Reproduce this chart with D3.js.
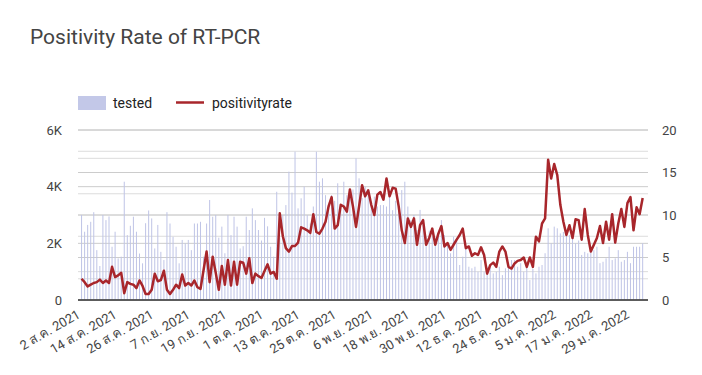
<!DOCTYPE html>
<html><head><meta charset="utf-8">
<script src="https://cdn.jsdelivr.net/npm/d3@7"></script>
<style>
body{margin:0;background:#fff;}
text{font-family:Roboto,'Noto Sans','DejaVu Sans',sans-serif;}
</style>
</head><body>
<svg id="chart" width="702" height="375"></svg>
<script>
const titleText = "Positivity Rate of RT-PCR";
const startDate = "2021-08-02";
const seriesNames = ["tested", "positivityrate"];
const tested = [
3000,2410,2650,2760,3100,1760,1200,3000,2820,2950,
1880,2410,1470,1530,4175,2290,2620,2940,2410,1640,
1295,2710,3160,2880,1820,2650,1700,1410,3100,2700,
2230,1880,1295,2120,2000,2120,1760,2700,2700,2760,
1530,2700,3530,2940,3000,2200,2590,1650,3000,2290,
2940,2590,1820,1900,2940,2470,3235,2820,2470,2100,
2900,2600,1880,1530,3820,2200,3000,3350,4530,3790,
5235,3235,3590,4000,3000,2700,3300,5235,4175,4295,
3700,3300,3700,3500,4120,3300,4175,3700,3600,3900,
5000,4295,3600,4000,3760,3300,3650,3300,3350,3350,
3300,3650,3170,3500,3300,3880,4175,3300,2820,3000,
2470,3180,2800,2235,2450,2235,2000,2235,2820,2290,
2000,1650,2235,2175,1235,1530,1825,1175,1120,1175,
1000,1410,1000,1175,1175,940,1000,1175,880,1120,
1175,1410,1410,1175,1300,1000,1175,705,1100,940,
1175,1235,1650,2530,2000,2590,2530,2350,2400,2290,
2290,2235,2000,2100,1590,1700,1650,1825,1760,1880,
1300,1350,1470,1880,1410,1470,1760,1350,1410,1700,
1300,1880,1880,1880,2000
];
const positivityrate = [
2.5,2.1,1.6,1.8,2.0,2.1,2.4,2.0,2.3,2.0,
3.9,2.7,2.9,3.2,0.8,2.1,1.9,1.8,1.4,2.3,
1.65,0.7,0.7,1.2,3.1,2.2,2.35,3.45,1.2,0.7,
1.2,1.8,1.4,3.0,1.7,2.0,1.7,2.3,1.5,1.3,
3.5,5.7,2.1,5.1,3.2,1.2,4.0,1.8,4.7,1.7,
4.5,1.8,4.5,4.4,3.1,4.9,2.0,3.1,2.8,2.6,
3.4,4.2,3.1,3.3,2.5,10.2,7.5,6.1,5.7,6.35,
6.35,6.75,8.55,8.4,8.2,7.9,10.1,8.0,7.8,8.4,
9.2,11.0,12.1,8.4,8.8,11.2,11.0,10.4,13.0,11.0,
8.6,11.0,13.5,12.2,12.9,11.2,10.0,12.4,12.7,11.8,
14.3,12.2,13.2,13.1,11.0,8.2,6.7,9.6,8.6,9.6,
6.5,8.8,9.4,6.5,7.3,8.4,6.5,7.8,8.7,6.3,
6.7,5.9,6.5,7.1,7.65,8.4,6.1,6.3,5.2,5.5,
5.3,6.2,5.3,3.1,4.1,4.4,3.9,5.7,6.3,5.7,
3.9,3.7,4.3,4.6,4.7,5.0,3.9,5.0,3.9,7.45,
6.9,9.0,9.6,16.5,14.3,16.0,14.7,
11.2,9.2,7.65,8.8,7.3,9.5,9.4,7.1,10.7,7.65,
5.7,6.5,7.3,8.7,6.7,9.2,7.1,10.1,6.75,9.0,
10.7,8.6,11.4,12.1,8.2,10.9,10.1,12.0
];
const tickDates = ["2021-08-02","2021-08-14","2021-08-26","2021-09-07","2021-09-19","2021-10-01","2021-10-13","2021-10-25","2021-11-06","2021-11-18","2021-11-30","2021-12-12","2021-12-24","2022-01-05","2022-01-17","2022-01-29"];
const tickLabels = ["2 ส.ค. 2021","14 ส.ค. 2021","26 ส.ค. 2021","7 ก.ย. 2021","19 ก.ย. 2021","1 ต.ค. 2021","13 ต.ค. 2021","25 ต.ค. 2021","6 พ.ย. 2021","18 พ.ย. 2021","30 พ.ย. 2021","12 ธ.ค. 2021","24 ธ.ค. 2021","5 ม.ค. 2022","17 ม.ค. 2022","29 ม.ค. 2022"];
const leftTicks = [0, 2000, 4000, 6000];
const leftTickLabels = ["0", "2K", "4K", "6K"];
const leftMinorTicks = [1000, 3000, 5000];
const rightTicks = [0, 5, 10, 15, 20];
const rightMinorTicks = [2.5, 7.5, 12.5, 17.5];

const parse = d3.timeParse("%Y-%m-%d");
const start = parse(startDate);
const dates = tested.map((_, i) => d3.timeDay.offset(start, i));
const data = dates.map((d, i) => ({date: d, tested: tested[i], rate: positivityrate[i]}));

const L = 78, R = 648, T = 130, B = 300;
const svg = d3.select("#chart");

const x = d3.scaleTime()
  .domain([d3.timeHour.offset(dates[0], -28), d3.timeHour.offset(dates[dates.length - 1], 42)])
  .range([L, R]);
const yL = d3.scaleLinear().domain([0, 6000]).range([B, T]);
const yR = d3.scaleLinear().domain([0, 20]).range([B, T]);

// gridlines
const grid = svg.append("g");
grid.selectAll("line.minL").data(leftMinorTicks).enter().append("line")
  .attr("x1", L).attr("x2", R).attr("y1", d => yL(d)).attr("y2", d => yL(d))
  .attr("stroke", "#dcdcdc").attr("stroke-width", 1);
grid.selectAll("line.minR").data(rightMinorTicks).enter().append("line")
  .attr("x1", L).attr("x2", R).attr("y1", d => yR(d)).attr("y2", d => yR(d))
  .attr("stroke", "#dcdcdc").attr("stroke-width", 1);
grid.selectAll("line.majL").data(leftTicks).enter().append("line")
  .attr("x1", L).attr("x2", R).attr("y1", d => yL(d)).attr("y2", d => yL(d))
  .attr("stroke", "#cccccc").attr("stroke-width", 1);
grid.selectAll("line.majR").data(rightTicks).enter().append("line")
  .attr("x1", L).attr("x2", R).attr("y1", d => yR(d)).attr("y2", d => yR(d))
  .attr("stroke", "#cccccc").attr("stroke-width", 1);

// bars
svg.append("g").selectAll("rect").data(data).enter().append("rect")
  .attr("x", d => x(d.date) - 0.5)
  .attr("width", 1)
  .attr("y", d => yL(d.tested))
  .attr("height", d => B - yL(d.tested))
  .attr("fill", "#bfc4e6");

// baseline
svg.append("line").attr("x1", L).attr("x2", R).attr("y1", B).attr("y2", B)
  .attr("stroke", "#333").attr("stroke-width", 1.5);

// line
const line = d3.line().x(d => x(d.date)).y(d => yR(d.rate));
svg.append("path").datum(data).attr("d", line)
  .attr("fill", "none").attr("stroke", "#a8262b").attr("stroke-width", 2.5)
  .attr("stroke-linejoin", "round");

// axes
const axL = svg.append("g").attr("transform", `translate(${L},0)`)
  .call(d3.axisLeft(yL).tickValues(leftTicks).tickFormat((d, i) => leftTickLabels[i]).tickSize(0).tickPadding(16));
const axR = svg.append("g").attr("transform", `translate(${R},0)`)
  .call(d3.axisRight(yR).tickValues(rightTicks).tickFormat(d => d).tickSize(0).tickPadding(14));
const axB = svg.append("g").attr("transform", `translate(0,${B})`)
  .call(d3.axisBottom(x).tickValues(tickDates.map(parse)).tickFormat((d, i) => tickLabels[i]).tickSize(0));
[axL, axR, axB].forEach(g => {
  g.select(".domain").remove();
  g.selectAll("text").attr("fill", "#444").style("font-size", "13px").style("font-family", "Roboto,'Noto Sans','DejaVu Sans',sans-serif");
});
axB.selectAll("text")
  .attr("text-anchor", "end").attr("x", 0).attr("y", 0).attr("dy", 0)
  .attr("transform", "translate(-1,17) rotate(-30)");

// title
svg.append("text").attr("x", 30).attr("y", 43.5).text(titleText)
  .attr("fill", "#444").style("font-size", "21px");

// legend
const lg = svg.append("g");
lg.append("rect").attr("x", 78).attr("y", 96).attr("width", 28).attr("height", 14).attr("fill", "#c3c8e8");
lg.append("text").attr("x", 113).attr("y", 108.3).text(seriesNames[0]).attr("fill", "#222").style("font-size", "14px");
lg.append("line").attr("x1", 176).attr("x2", 204).attr("y1", 102.5).attr("y2", 102.5)
  .attr("stroke", "#a8262b").attr("stroke-width", 2.5);
lg.append("text").attr("x", 212).attr("y", 108.3).text(seriesNames[1]).attr("fill", "#222").style("font-size", "14px");
</script>
</body></html>
